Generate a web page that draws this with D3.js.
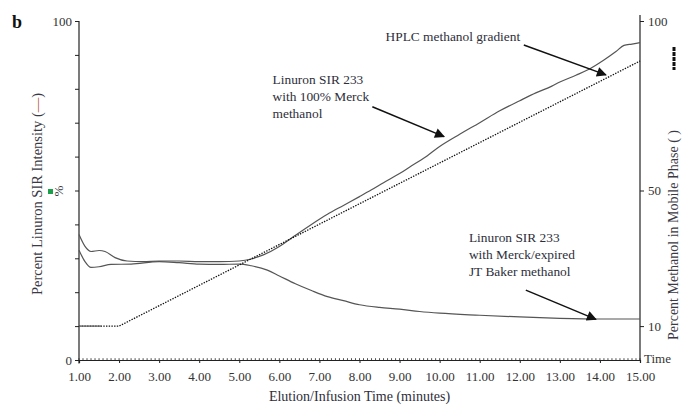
<!DOCTYPE html>
<html>
<head>
<meta charset="utf-8">
<script src="https://cdn.jsdelivr.net/npm/d3@7"></script>
<style>
  body { margin: 0; background: #fff; }
  svg { display: block; font-family: "Liberation Serif", "DejaVu Serif", serif; }
  .axis text { font-family: "Liberation Serif", serif; font-size: 13px; fill: #333; }
  .axis line, .axis path { stroke: #222; }
</style>
</head>
<body>
<div class="container"></div>
<script>
// values (time in minutes, percent)
var merckTimes = [1.0, 1.15, 1.3, 1.5, 1.65, 1.9, 2.2, 2.6, 3.0, 3.5, 4.0, 4.5, 5.0, 5.3, 5.6, 6.0, 6.4, 6.8, 7.2, 7.6, 8.0, 8.3, 8.6, 9.0, 9.3, 9.6, 10.0, 10.5, 11.0, 11.5, 12.0, 12.4, 12.8, 13.0, 13.4, 13.7, 14.1, 14.4, 14.6, 14.8, 15.0];
var merckValues = [37.0, 33.5, 32.0, 32.3, 32.0, 30.2, 29.2, 29.0, 29.2, 29.2, 29.0, 29.0, 29.2, 29.8, 31.0, 33.5, 36.8, 40.0, 43.0, 45.6, 48.2, 50.2, 52.3, 55.0, 57.3, 59.5, 63.0, 66.6, 70.0, 73.5, 76.5, 78.8, 80.8, 82.0, 84.0, 85.6, 88.5, 91.0, 92.8, 93.2, 93.6];

var bakerTimes = [1.0, 1.15, 1.3, 1.5, 1.8, 2.3, 3.0, 3.5, 4.0, 4.5, 5.0, 5.3, 5.7, 6.0, 6.4, 6.8, 7.2, 7.6, 8.0, 8.5, 9.0, 9.5, 10.0, 11.0, 12.0, 13.0, 14.0, 15.0];
var bakerValues = [32.4, 29.0, 27.3, 27.5, 28.2, 28.3, 29.0, 28.7, 28.3, 28.2, 28.3, 27.8, 26.5, 24.8, 22.5, 20.5, 18.7, 17.5, 16.3, 15.5, 15.0, 14.3, 13.8, 13.2, 12.7, 12.3, 12.1, 12.1];

var gradientTimes = [1.0, 2.0, 15.0];
var gradientValues = [10, 10, 88.2];

var xTicks = [1, 2, 3, 4, 5, 6, 7, 8, 9, 10, 11, 12, 13, 14, 15];
var leftTicks = [0, 10, 20, 30, 40, 50, 60, 70, 80, 90, 100];
var leftTickLabels = [0, 100];
var rightTicks = [10, 50, 100];

// annotations: [time, percent] positions
var notes = [
  {lines: ["HPLC methanol gradient"], at: [8.65, 94.1], from: [12.1, 92.9], to: [14.15, 84.1]},
  {lines: ["Linuron SIR 233", "with 100% Merck", "methanol"], at: [5.83, 81.5], from: [8.32, 74.7], to: [10.11, 65.9]},
  {lines: ["Linuron SIR 233", "with Merck/expired", "JT Baker methanol"], at: [10.73, 34.7], from: [12.15, 20.6], to: [13.9, 12.0]}
];

svgwidth = 682;
svgheight = 409;
margin = {top: 21, right: 42, bottom: 49, left: 79};
mywidth = svgwidth - margin.left - margin.right;
myheight = svgheight - margin.top - margin.bottom;

var svgRoot = d3.select('.container')
    .append("svg")
    .attr("width", svgwidth)
    .attr("height", svgheight);

svgRoot.append("defs").append("marker")
    .attr("id", "head")
    .attr("viewBox", "0 0 10 10")
    .attr("refX", 9).attr("refY", 5)
    .attr("markerWidth", 12).attr("markerHeight", 10)
    .attr("markerUnits", "userSpaceOnUse")
    .attr("orient", "auto")
    .append("path")
        .attr("d", "M0,0 L10,5 L0,10 Z")
        .attr("fill", "#111");

svg = svgRoot.append("g")
    .attr("transform", "translate(" + margin.left + "," + margin.top + ")");

posX = d3.scaleLinear().domain([1, 15]).range([0, mywidth]);
posY = d3.scaleLinear().domain([0, 100]).range([myheight, 0]);

var line = d3.line()
    .x(function(d) { return posX(d[0]); })
    .y(function(d) { return posY(d[1]); })
    .curve(d3.curveMonotoneX);

var merck = d3.zip(merckTimes, merckValues);
var baker = d3.zip(bakerTimes, bakerValues);
var gradient = d3.zip(gradientTimes, gradientValues);

// axes
var xAxis = svg.append("g")
    .attr("class", "axis")
    .attr("transform", "translate(0," + myheight + ")")
    .call(d3.axisBottom(posX).tickValues(xTicks).tickSize(3).tickPadding(9)
        .tickFormat(d3.format(".2f")));
xAxis.select(".domain").attr("stroke-width", 1.2);

// minor ticks every 0.1 min pointing up
xAxis.selectAll(".minor")
    .data(d3.range(10, 151).map(function(i) { return i / 10; }))
    .enter()
    .append("line")
        .attr("class", "minor")
        .attr("x1", function(d) { return posX(d); })
        .attr("x2", function(d) { return posX(d); })
        .attr("y1", 0).attr("y2", -1.8)
        .attr("stroke", "#333").attr("stroke-width", 0.8);

var yAxis = svg.append("g")
    .attr("class", "axis")
    .call(d3.axisLeft(posY).tickValues(leftTicks).tickSize(4).tickPadding(3)
        .tickFormat(function(d) { return leftTickLabels.indexOf(d) >= 0 ? d : ""; }));
yAxis.select(".domain").remove();
yAxis.append("line")
    .attr("x1", 0).attr("x2", 0)
    .attr("y1", posY(100)).attr("y2", posY(-1))
    .attr("stroke", "#222").attr("stroke-width", 1.2);

var yAxisR = svg.append("g")
    .attr("class", "axis")
    .attr("transform", "translate(" + mywidth + ",0)")
    .call(d3.axisRight(posY).tickValues(rightTicks).tickSize(4).tickPadding(4));
yAxisR.select(".domain").remove();
yAxisR.append("line")
    .attr("x1", 0).attr("x2", 0)
    .attr("y1", posY(101.8)).attr("y2", posY(0))
    .attr("stroke", "#555").attr("stroke-width", 1.2);

svg.append("text")
    .attr("x", mywidth + 4).attr("y", myheight + 3)
    .attr("font-size", 13).attr("fill", "#333")
    .text("Time");

// data lines
svg.append("path")
    .datum(baker)
    .attr("d", line)
    .attr("fill", "none").attr("stroke", "#555").attr("stroke-width", 1.2);
svg.append("path")
    .datum(merck)
    .attr("d", line)
    .attr("fill", "none").attr("stroke", "#555").attr("stroke-width", 1.2);

var linear = d3.line()
    .x(function(d) { return posX(d[0]); })
    .y(function(d) { return posY(d[1]); });
svg.append("path")
    .datum(gradient)
    .attr("d", linear)
    .attr("fill", "none").attr("stroke", "#111").attr("stroke-width", 1.3)
    .attr("stroke-dasharray", "1.4,1.3");
// first part of the baseline is drawn solid
svg.append("path")
    .datum(gradient)
    .attr("d", linear)
    .attr("fill", "none").attr("stroke", "#666").attr("stroke-width", 1.3)
    .attr("stroke-dasharray", "22,3000");

// annotations
notes.forEach(function(n) {
    var t = svg.append("text")
        .attr("x", posX(n.at[0]))
        .attr("y", posY(n.at[1]))
        .attr("font-size", 13.4)
        .attr("fill", "#2e2e3a");
    n.lines.forEach(function(s, i) {
        t.append("tspan")
            .attr("x", posX(n.at[0]))
            .attr("dy", i == 0 ? 0 : 17)
            .text(s);
    });
    svg.append("line")
        .attr("x1", posX(n.from[0])).attr("y1", posY(n.from[1]))
        .attr("x2", posX(n.to[0])).attr("y2", posY(n.to[1]))
        .attr("stroke", "#111").attr("stroke-width", 1.5)
        .attr("marker-end", "url(#head)");
});

// axis titles
svgRoot.append("text")
    .attr("x", margin.left + mywidth / 2)
    .attr("y", 401)
    .attr("text-anchor", "middle")
    .attr("font-size", 14).attr("fill", "#2e2e3a")
    .text("Elution/Infusion Time (minutes)");

var leftTitle = svgRoot.append("text")
    .attr("transform", "translate(42,194) rotate(-90)")
    .attr("text-anchor", "middle")
    .attr("font-size", 14.5).attr("fill", "#3a3a44");
leftTitle.append("tspan").text("Percent Linuron SIR Intensity (");
leftTitle.append("tspan").attr("fill", "#b0503a").text("\u2014");
leftTitle.append("tspan").text(")");

svgRoot.append("text")
    .attr("transform", "translate(63,191) rotate(-90)")
    .attr("text-anchor", "middle")
    .attr("font-size", 13).attr("fill", "#3a3a44")
    .text("%");
svgRoot.append("rect")
    .attr("x", 48).attr("y", 189)
    .attr("width", 5).attr("height", 5)
    .attr("fill", "#1aa04a");

svgRoot.append("text")
    .attr("transform", "translate(678,340) rotate(-90)")
    .attr("font-size", 14).attr("fill", "#3a3a44")
    .text("Percent Methanol in Mobile Phase (  )");
svgRoot.append("line")
    .attr("x1", 674).attr("x2", 674)
    .attr("y1", 47).attr("y2", 70)
    .attr("stroke", "#111").attr("stroke-width", 3)
    .attr("stroke-dasharray", "4,1");

svgRoot.append("text")
    .attr("x", 12).attr("y", 28)
    .attr("font-size", 18).attr("font-weight", "bold")
    .attr("fill", "#111")
    .text("b");
</script>
</body>
</html>
